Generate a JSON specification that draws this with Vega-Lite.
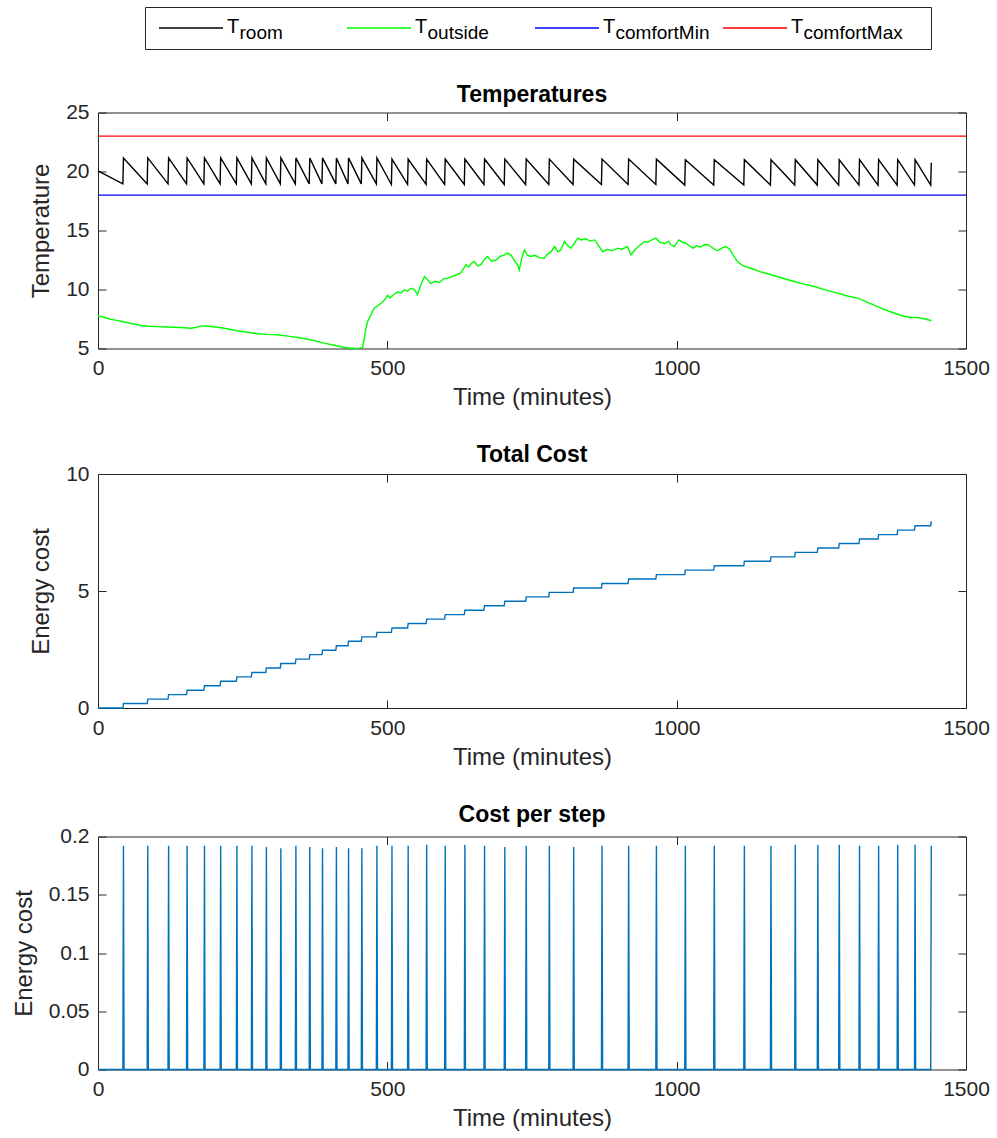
{
  "$schema": "https://vega.github.io/schema/vega-lite/v6.json",
  "padding": {"left": 11, "top": 6, "right": 5, "bottom": 5},
  "config": {
    "font": "Liberation Sans",
    "view": {"stroke": "#262626", "strokeWidth": 1},
    "axis": {"domain": false, "grid": false, "tickSize": -8, "tickColor": "#262626", "tickWidth": 1,
      "labelFontSize": 21, "labelColor": "#262626", "labelFlush": false, "labelOverlap": false, "labelPadding": 17,
      "titleFontSize": 24, "titleFontWeight": "normal", "titleColor": "#262626", "titlePadding": 7},
    "axisY": {"titlePadding": 12},
    "title": {"fontSize": 23, "fontWeight": "bold", "color": "#000000"}
  },
  "datasets": {
    "legendItems": [
      {"series": "Troom", "main": "T", "sub": "room"},
      {"series": "Toutside", "main": "T", "sub": "outside"},
      {"series": "TcomfortMin", "main": "T", "sub": "comfortMin"},
      {"series": "TcomfortMax", "main": "T", "sub": "comfortMax"}
    ],
    "comfort": [
      {"series": "TcomfortMin", "T": 18},
      {"series": "TcomfortMax", "T": 23}
    ],
    "outside": [
      {"t":0,"T":7.75},{"t":10,"T":7.65},{"t":20,"T":7.5},{"t":30,"T":7.4},{"t":45,"T":7.25},{"t":60,"T":7.1},{"t":75,"T":6.95},{"t":89,"T":6.88},{"t":105,"T":6.85},{"t":120,"T":6.82},{"t":143,"T":6.78},{"t":161,"T":6.72},{"t":170,"T":6.8},{"t":178,"T":6.92},{"t":190,"T":6.88},{"t":207,"T":6.8},{"t":225,"T":6.65},{"t":241,"T":6.5},{"t":258,"T":6.38},{"t":276,"T":6.25},{"t":293,"T":6.2},{"t":310,"T":6.17},{"t":328,"T":6.05},{"t":345,"T":5.93},{"t":360,"T":5.8},{"t":375,"T":5.65},{"t":391,"T":5.45},{"t":410,"T":5.25},{"t":426,"T":5.08},{"t":443,"T":5.0},{"t":452,"T":5.02},{"t":457,"T":5.1},{"t":460,"T":5.8},{"t":463,"T":6.72},{"t":466,"T":7.3},{"t":469,"T":7.6},{"t":473,"T":8.0},{"t":477,"T":8.42},{"t":483,"T":8.6},{"t":489,"T":8.84},{"t":495,"T":9.1},{"t":500,"T":9.5},{"t":505,"T":9.3},{"t":512,"T":9.6},{"t":518,"T":9.8},{"t":524,"T":9.7},{"t":529,"T":9.97},{"t":535,"T":9.85},{"t":541,"T":10.1},{"t":547,"T":10.0},{"t":552,"T":9.55},{"t":558,"T":10.4},{"t":564,"T":11.1},{"t":570,"T":10.8},{"t":575,"T":10.5},{"t":582,"T":10.7},{"t":590,"T":10.6},{"t":597,"T":10.9},{"t":604,"T":10.96},{"t":612,"T":11.1},{"t":620,"T":11.25},{"t":627,"T":11.4},{"t":632,"T":11.8},{"t":636,"T":12.1},{"t":641,"T":11.9},{"t":645,"T":12.2},{"t":650,"T":12.37},{"t":656,"T":12.0},{"t":662,"T":12.1},{"t":667,"T":12.5},{"t":673,"T":12.8},{"t":680,"T":12.4},{"t":688,"T":12.5},{"t":695,"T":12.8},{"t":701,"T":12.9},{"t":708,"T":13.08},{"t":714,"T":12.9},{"t":720,"T":12.4},{"t":725,"T":12.1},{"t":728,"T":11.67},{"t":732,"T":12.6},{"t":737,"T":13.36},{"t":742,"T":12.9},{"t":748,"T":12.8},{"t":755,"T":12.9},{"t":763,"T":12.7},{"t":771,"T":12.65},{"t":777,"T":13.0},{"t":783,"T":13.2},{"t":789,"T":13.64},{"t":795,"T":13.2},{"t":800,"T":13.36},{"t":806,"T":14.07},{"t":812,"T":13.7},{"t":817,"T":13.5},{"t":823,"T":13.9},{"t":829,"T":14.35},{"t":835,"T":14.2},{"t":843,"T":14.3},{"t":850,"T":14.1},{"t":858,"T":14.2},{"t":864,"T":13.8},{"t":872,"T":13.2},{"t":880,"T":13.4},{"t":886,"T":13.3},{"t":892,"T":13.36},{"t":898,"T":13.5},{"t":905,"T":13.4},{"t":915,"T":13.64},{"t":921,"T":12.94},{"t":927,"T":13.3},{"t":933,"T":13.6},{"t":938,"T":13.8},{"t":944,"T":14.07},{"t":950,"T":14.0},{"t":957,"T":14.2},{"t":964,"T":14.35},{"t":971,"T":14.0},{"t":979,"T":13.9},{"t":986,"T":14.1},{"t":990,"T":13.79},{"t":996,"T":13.64},{"t":1004,"T":14.2},{"t":1010,"T":14.0},{"t":1016,"T":13.92},{"t":1022,"T":13.7},{"t":1028,"T":13.5},{"t":1035,"T":13.7},{"t":1041,"T":13.6},{"t":1048,"T":13.8},{"t":1054,"T":13.79},{"t":1060,"T":13.6},{"t":1066,"T":13.4},{"t":1071,"T":13.28},{"t":1078,"T":13.5},{"t":1085,"T":13.64},{"t":1092,"T":13.4},{"t":1098,"T":12.9},{"t":1105,"T":12.37},{"t":1115,"T":12.0},{"t":1128,"T":11.8},{"t":1145,"T":11.5},{"t":1163,"T":11.25},{"t":1183,"T":10.95},{"t":1203,"T":10.68},{"t":1220,"T":10.45},{"t":1238,"T":10.25},{"t":1258,"T":9.95},{"t":1278,"T":9.69},{"t":1295,"T":9.45},{"t":1313,"T":9.27},{"t":1333,"T":8.85},{"t":1353,"T":8.42},{"t":1373,"T":8.05},{"t":1393,"T":7.71},{"t":1405,"T":7.65},{"t":1416,"T":7.63},{"t":1430,"T":7.5},{"t":1440,"T":7.35}
    ],
    "room": [
      {"t":0,"T":20.05},
      {"t":43,"T":18.95},{"t":44,"T":21.15},{"t":85,"T":18.95},{"t":86,"T":21.15},{"t":121,"T":18.95},{"t":122,"T":21.15},{"t":153,"T":18.95},{"t":154,"T":21.15},{"t":183,"T":18.95},{"t":184,"T":21.15},{"t":211,"T":18.95},{"t":212,"T":21.15},{"t":239,"T":18.95},{"t":240,"T":21.15},{"t":265,"T":18.95},{"t":266,"T":21.15},{"t":290,"T":18.95},{"t":291,"T":21.15},{"t":315,"T":18.95},{"t":316,"T":21.15},{"t":341,"T":18.95},{"t":342,"T":21.15},{"t":365,"T":18.95},{"t":366,"T":21.15},{"t":387,"T":18.95},{"t":388,"T":21.15},{"t":411,"T":18.95},{"t":412,"T":21.15},{"t":432,"T":18.95},{"t":433,"T":21.15},{"t":455,"T":18.95},{"t":456,"T":21.15},{"t":481,"T":18.95},{"t":482,"T":21.15},
      {"t":507,"T":18.9},{"t":508,"T":21.05},{"t":535,"T":18.9},{"t":536,"T":21.05},{"t":567,"T":18.9},{"t":568,"T":21.05},{"t":599,"T":18.9},{"t":600,"T":21.05},{"t":633,"T":18.9},{"t":634,"T":21.05},{"t":667,"T":18.9},{"t":668,"T":21.05},{"t":702,"T":18.9},{"t":703,"T":21.05},{"t":739,"T":18.9},{"t":740,"T":21.05},{"t":779,"T":18.9},{"t":780,"T":21.05},{"t":821,"T":18.9},{"t":822,"T":21.05},{"t":870,"T":18.9},{"t":871,"T":21.05},{"t":916,"T":18.9},{"t":917,"T":21.05},{"t":964,"T":18.9},{"t":965,"T":21.05},
      {"t":1014,"T":18.85},{"t":1015,"T":21.0},{"t":1064,"T":18.85},{"t":1065,"T":21.0},{"t":1116,"T":18.85},{"t":1117,"T":21.0},{"t":1162,"T":18.85},{"t":1163,"T":21.0},{"t":1204,"T":18.85},{"t":1205,"T":21.0},{"t":1243,"T":18.85},{"t":1244,"T":21.0},{"t":1280,"T":18.85},{"t":1281,"T":21.0},{"t":1315,"T":18.85},{"t":1316,"T":21.0},{"t":1348,"T":18.85},{"t":1349,"T":21.0},{"t":1381,"T":18.85},{"t":1382,"T":21.0},{"t":1411,"T":18.85},{"t":1412,"T":21.0},{"t":1439,"T":18.85},{"t":1440,"T":20.75}
    ],
    "total": [
      {"t":0,"c":0},
      {"t":43,"c":0},{"t":44,"c":0.19},{"t":85,"c":0.19},{"t":86,"c":0.38},{"t":121,"c":0.38},{"t":122,"c":0.57},{"t":153,"c":0.57},{"t":154,"c":0.76},{"t":183,"c":0.76},{"t":184,"c":0.95},{"t":211,"c":0.95},{"t":212,"c":1.14},{"t":239,"c":1.14},{"t":240,"c":1.33},{"t":265,"c":1.33},{"t":266,"c":1.52},{"t":290,"c":1.52},{"t":291,"c":1.71},{"t":315,"c":1.71},{"t":316,"c":1.90},{"t":341,"c":1.90},{"t":342,"c":2.09},{"t":365,"c":2.09},{"t":366,"c":2.28},{"t":387,"c":2.28},{"t":388,"c":2.47},{"t":411,"c":2.47},{"t":412,"c":2.66},{"t":432,"c":2.66},{"t":433,"c":2.85},{"t":455,"c":2.85},{"t":456,"c":3.04},{"t":481,"c":3.04},{"t":482,"c":3.23},
      {"t":507,"c":3.23},{"t":508,"c":3.42},{"t":535,"c":3.42},{"t":536,"c":3.61},{"t":567,"c":3.61},{"t":568,"c":3.80},{"t":599,"c":3.80},{"t":600,"c":3.99},{"t":633,"c":3.99},{"t":634,"c":4.18},{"t":667,"c":4.18},{"t":668,"c":4.37},{"t":702,"c":4.37},{"t":703,"c":4.56},{"t":739,"c":4.56},{"t":740,"c":4.75},{"t":779,"c":4.75},{"t":780,"c":4.94},{"t":821,"c":4.94},{"t":822,"c":5.13},{"t":870,"c":5.13},{"t":871,"c":5.32},{"t":916,"c":5.32},{"t":917,"c":5.51},{"t":964,"c":5.51},{"t":965,"c":5.70},
      {"t":1014,"c":5.70},{"t":1015,"c":5.89},{"t":1064,"c":5.89},{"t":1065,"c":6.08},{"t":1116,"c":6.08},{"t":1117,"c":6.27},{"t":1162,"c":6.27},{"t":1163,"c":6.46},{"t":1204,"c":6.46},{"t":1205,"c":6.65},{"t":1243,"c":6.65},{"t":1244,"c":6.84},{"t":1280,"c":6.84},{"t":1281,"c":7.03},{"t":1315,"c":7.03},{"t":1316,"c":7.22},{"t":1348,"c":7.22},{"t":1349,"c":7.41},{"t":1381,"c":7.41},{"t":1382,"c":7.60},{"t":1411,"c":7.60},{"t":1412,"c":7.79},{"t":1439,"c":7.79},{"t":1440,"c":7.98}
    ],
    "perstep": [
      {"t":0,"c":0},
      {"t":43,"c":0},{"t":44,"c":0.192},{"t":45,"c":0},{"t":85,"c":0},{"t":86,"c":0.192},{"t":87,"c":0},{"t":121,"c":0},{"t":122,"c":0.192},{"t":123,"c":0},{"t":153,"c":0},{"t":154,"c":0.192},{"t":155,"c":0},{"t":183,"c":0},{"t":184,"c":0.192},{"t":185,"c":0},{"t":211,"c":0},{"t":212,"c":0.192},{"t":213,"c":0},{"t":239,"c":0},{"t":240,"c":0.192},{"t":241,"c":0},{"t":265,"c":0},{"t":266,"c":0.192},{"t":267,"c":0},{"t":290,"c":0},{"t":291,"c":0.191},{"t":292,"c":0},{"t":315,"c":0},{"t":316,"c":0.19},{"t":317,"c":0},{"t":341,"c":0},{"t":342,"c":0.192},{"t":343,"c":0},{"t":365,"c":0},{"t":366,"c":0.191},{"t":367,"c":0},{"t":387,"c":0},{"t":388,"c":0.19},{"t":389,"c":0},{"t":411,"c":0},{"t":412,"c":0.191},{"t":413,"c":0},{"t":432,"c":0},{"t":433,"c":0.19},{"t":434,"c":0},{"t":455,"c":0},{"t":456,"c":0.19},{"t":457,"c":0},{"t":481,"c":0},{"t":482,"c":0.192},{"t":483,"c":0},
      {"t":507,"c":0},{"t":508,"c":0.192},{"t":509,"c":0},{"t":535,"c":0},{"t":536,"c":0.192},{"t":537,"c":0},{"t":567,"c":0},{"t":568,"c":0.193},{"t":569,"c":0},{"t":599,"c":0},{"t":600,"c":0.192},{"t":601,"c":0},{"t":633,"c":0},{"t":634,"c":0.193},{"t":635,"c":0},{"t":667,"c":0},{"t":668,"c":0.192},{"t":669,"c":0},{"t":702,"c":0},{"t":703,"c":0.191},{"t":704,"c":0},{"t":739,"c":0},{"t":740,"c":0.192},{"t":741,"c":0},{"t":779,"c":0},{"t":780,"c":0.192},{"t":781,"c":0},{"t":821,"c":0},{"t":822,"c":0.191},{"t":823,"c":0},{"t":870,"c":0},{"t":871,"c":0.192},{"t":872,"c":0},{"t":916,"c":0},{"t":917,"c":0.192},{"t":918,"c":0},{"t":964,"c":0},{"t":965,"c":0.192},{"t":966,"c":0},
      {"t":1014,"c":0},{"t":1015,"c":0.192},{"t":1016,"c":0},{"t":1064,"c":0},{"t":1065,"c":0.192},{"t":1066,"c":0},{"t":1116,"c":0},{"t":1117,"c":0.192},{"t":1118,"c":0},{"t":1162,"c":0},{"t":1163,"c":0.192},{"t":1164,"c":0},{"t":1204,"c":0},{"t":1205,"c":0.193},{"t":1206,"c":0},{"t":1243,"c":0},{"t":1244,"c":0.193},{"t":1245,"c":0},{"t":1280,"c":0},{"t":1281,"c":0.193},{"t":1282,"c":0},{"t":1315,"c":0},{"t":1316,"c":0.192},{"t":1317,"c":0},{"t":1348,"c":0},{"t":1349,"c":0.192},{"t":1350,"c":0},{"t":1381,"c":0},{"t":1382,"c":0.193},{"t":1383,"c":0},{"t":1411,"c":0},{"t":1412,"c":0.193},{"t":1413,"c":0},{"t":1439,"c":0},{"t":1440,"c":0.192}
    ]
  },
  "spacing": 32.5,
  "vconcat": [
    {
      "spacing": 10,
      "hconcat": [
        {
          "width": 36,
          "height": 42,
          "view": {"stroke": null},
          "data": {"values": []},
          "mark": "point"
        },
        {
          "width": 786,
          "height": 42,
          "data": {"name": "legendItems"},
          "encoding": {
            "x": {"field": "series", "type": "nominal", "sort": null, "axis": null,
              "scale": {"type": "point", "domain": ["Troom", "Toutside", "TcomfortMin", "TcomfortMax"], "padding": 0.5904}},
            "y": {"datum": 0, "type": "quantitative", "axis": null, "scale": {"domain": [-1, 1]}}
          },
          "layer": [
            {
              "mark": {"type": "rule", "xOffset": -97, "x2Offset": -33, "strokeWidth": 1.3},
              "encoding": {
                "x2": {"field": "series"},
                "color": {"field": "series", "type": "nominal", "legend": null,
                  "scale": {"domain": ["Troom", "Toutside", "TcomfortMin", "TcomfortMax"], "range": ["#000000", "#00ff00", "#0000ff", "#ff0000"]}}
              }
            },
            {
              "mark": {"type": "text", "align": "left", "baseline": "alphabetic", "dx": -29, "dy": 5, "fontSize": 20, "color": "#000000"},
              "encoding": {"text": {"field": "main"}}
            },
            {
              "mark": {"type": "text", "align": "left", "baseline": "alphabetic", "dx": -16.5, "dy": 11, "fontSize": 19, "color": "#000000"},
              "encoding": {"text": {"field": "sub"}}
            }
          ]
        }
      ]
    },
    {
      "width": 868,
      "height": 236,
      "title": {"text": "Temperatures", "offset": -5},
      "resolve": {"axis": {"x": "independent", "y": "independent"}},
      "layer": [
        {
          "data": {"name": "outside"},
          "mark": {"type": "line", "color": "#00ff00", "strokeWidth": 1.4},
          "encoding": {
            "x": {"field": "t", "type": "quantitative", "scale": {"domain": [0, 1500], "nice": false}, "axis": {"values": [0, 500, 1000, 1500], "format": "d", "title": "Time (minutes)"}},
            "y": {"field": "T", "type": "quantitative", "scale": {"domain": [5, 25], "nice": false, "zero": false}, "axis": {"values": [5, 10, 15, 20, 25], "title": "Temperature"}}
          }
        },
        {
          "data": {"name": "room"},
          "mark": {"type": "line", "color": "#000000", "strokeWidth": 1.4},
          "encoding": {
            "x": {"field": "t", "type": "quantitative", "axis": {"orient": "top", "values": [0, 500, 1000, 1500], "labels": false, "title": null}},
            "y": {"field": "T", "type": "quantitative", "axis": {"orient": "right", "values": [5, 10, 15, 20, 25], "labels": false, "title": null}}
          }
        },
        {
          "data": {"name": "comfort"},
          "mark": {"type": "rule", "strokeWidth": 1.2},
          "encoding": {
            "y": {"field": "T", "type": "quantitative", "axis": null},
            "color": {"field": "series", "type": "nominal", "legend": null,
              "scale": {"domain": ["Troom", "Toutside", "TcomfortMin", "TcomfortMax"], "range": ["#000000", "#00ff00", "#0000ff", "#ff0000"]}}
          }
        }
      ]
    },
    {
      "width": 868,
      "height": 234,
      "title": {"text": "Total Cost", "offset": -4},
      "data": {"name": "total"},
      "resolve": {"axis": {"x": "independent", "y": "independent"}},
      "layer": [
        {
          "mark": {"type": "line", "color": "#0072BD", "strokeWidth": 1.4},
          "encoding": {
            "x": {"field": "t", "type": "quantitative", "scale": {"domain": [0, 1500], "nice": false}, "axis": {"values": [0, 500, 1000, 1500], "format": "d", "title": "Time (minutes)"}},
            "y": {"field": "c", "type": "quantitative", "scale": {"domain": [0, 10], "nice": false}, "axis": {"values": [0, 5, 10], "title": "Energy cost"}}
          }
        },
        {
          "mark": {"type": "line", "strokeOpacity": 0},
          "encoding": {
            "x": {"field": "t", "type": "quantitative", "axis": {"orient": "top", "values": [0, 500, 1000, 1500], "labels": false, "title": null}},
            "y": {"field": "c", "type": "quantitative", "axis": {"orient": "right", "values": [0, 5, 10], "labels": false, "title": null}}
          }
        }
      ]
    },
    {
      "width": 868,
      "height": 233,
      "title": {"text": "Cost per step", "offset": -1},
      "data": {"name": "perstep"},
      "resolve": {"axis": {"x": "independent", "y": "independent"}},
      "layer": [
        {
          "mark": {"type": "line", "color": "#0072BD", "strokeWidth": 1.4},
          "encoding": {
            "x": {"field": "t", "type": "quantitative", "scale": {"domain": [0, 1500], "nice": false}, "axis": {"values": [0, 500, 1000, 1500], "format": "d", "title": "Time (minutes)"}},
            "y": {"field": "c", "type": "quantitative", "scale": {"domain": [0, 0.2], "nice": false}, "axis": {"values": [0, 0.05, 0.1, 0.15, 0.2], "format": "~g", "title": "Energy cost"}}
          }
        },
        {
          "mark": {"type": "line", "strokeOpacity": 0},
          "encoding": {
            "x": {"field": "t", "type": "quantitative", "axis": {"orient": "top", "values": [0, 500, 1000, 1500], "labels": false, "title": null}},
            "y": {"field": "c", "type": "quantitative", "axis": {"orient": "right", "values": [0, 0.05, 0.1, 0.15, 0.2], "labels": false, "title": null}}
          }
        }
      ]
    }
  ]
}
